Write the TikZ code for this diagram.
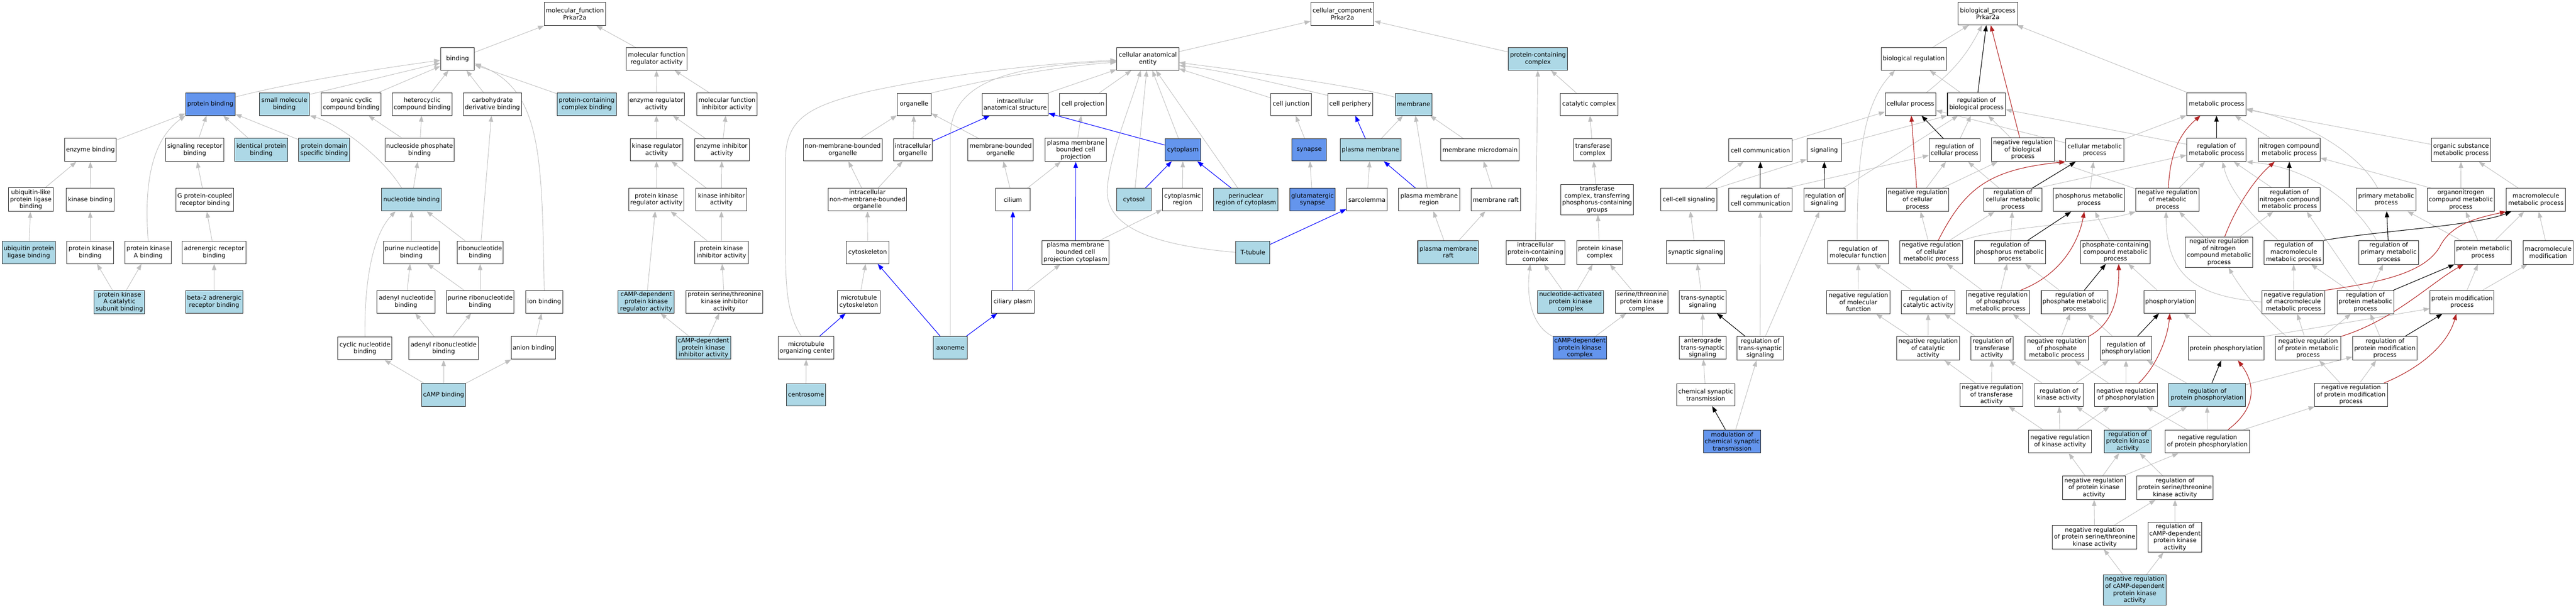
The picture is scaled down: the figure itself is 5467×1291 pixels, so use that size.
\documentclass[tikz,border=0pt]{standalone}
\usepackage{fontspec}
\setmainfont{DejaVu Sans}
\usetikzlibrary{arrows.meta}
\definecolor{lbl}{HTML}{ADD8E6}
\definecolor{cfb}{HTML}{6495ED}
\definecolor{egr}{HTML}{BEBEBE}
\definecolor{ered}{HTML}{B22222}
\definecolor{eblu}{HTML}{0000FF}
\pgfdeclarelayer{bg}
\pgfsetlayers{bg,main}
\newcommand{\gnode}[7]{%
  \pgfmathsetmacro{\gnw}{#4-#2}\pgfmathsetmacro{\gnh}{#5-#3}%
  \pgfmathsetmacro{\gncx}{(#2+#4)/2}\pgfmathsetmacro{\gncy}{-(#3+#5)/2}%
  \node[#6, minimum width=\gnw pt, minimum height=\gnh pt] (#1) at (\gncx,\gncy) {#7};}
\tikzset{
  wbox/.style={draw=black!85, line width=1.1pt, fill=white, align=center, inner xsep=1pt, inner ysep=1pt,
     font=\fontsize{12.9}{14.8}\selectfont, text=black},
  lbox/.style={wbox, fill=lbl},
  cbox/.style={wbox, fill=cfb},
  tipa/.tip={Triangle[length=13pt,width=9.5pt]},
  ge/.style={draw=egr, line width=1pt, -tipa},
  be/.style={draw=black, line width=1.2pt, -tipa},
  re/.style={draw=ered, line width=1.2pt, -tipa},
  ble/.style={draw=eblu, line width=1.2pt, -tipa},
}
\begin{document}
\begin{tikzpicture}[x=1pt,y=1pt]
\useasboundingbox (0,0) rectangle (5467,-1291);
% ---------------- molecular function ----------------
\gnode{mf}{1155}{5}{1285}{54}{wbox}{molecular\_function\\Prkar2a}
\gnode{bind}{935}{101}{1007}{149}{wbox}{binding}
\gnode{mfra}{1329}{101}{1458}{149}{wbox}{molecular function\\regulator activity}
\gnode{pb}{394}{197}{499}{245}{cbox}{protein binding}
\gnode{smb}{550}{197}{657}{245}{lbox}{small molecule\\binding}
\gnode{occb}{682}{197}{809}{245}{wbox}{organic cyclic\\compound binding}
\gnode{hccb}{833}{197}{959}{245}{wbox}{heterocyclic\\compound binding}
\gnode{cdb}{983}{197}{1107}{245}{wbox}{carbohydrate\\derivative binding}
\gnode{pccb}{1182}{197}{1308}{245}{lbox}{protein-containing\\complex binding}
\gnode{era}{1333}{197}{1453}{245}{wbox}{enzyme regulator\\activity}
\gnode{mfia}{1479}{197}{1607}{245}{wbox}{molecular function\\inhibitor activity}
\gnode{eb}{137}{294}{247}{343}{wbox}{enzyme binding}
\gnode{srb}{352}{294}{475}{343}{wbox}{signaling receptor\\binding}
\gnode{ipb}{498}{294}{611}{343}{lbox}{identical protein\\binding}
\gnode{pdsb}{634}{294}{742}{343}{lbox}{protein domain\\specific binding}
\gnode{npb}{817}{294}{964}{343}{wbox}{nucleoside phosphate\\binding}
\gnode{kra}{1338}{295}{1449}{342}{wbox}{kinase regulator\\activity}
\gnode{eia}{1474}{295}{1590}{342}{wbox}{enzyme inhibitor\\activity}
\gnode{ulplb}{18}{399}{113}{449}{wbox}{ubiquitin-like\\protein ligase\\binding}
\gnode{kb}{141}{400}{242}{449}{wbox}{kinase binding}
\gnode{gpcrb}{373}{400}{496}{449}{wbox}{G protein-coupled\\receptor binding}
\gnode{nb}{810}{400}{937}{448}{lbox}{nucleotide binding}
\gnode{pkra}{1334}{400}{1452}{448}{wbox}{protein kinase\\regulator activity}
\gnode{kia}{1477}{400}{1585}{448}{wbox}{kinase inhibitor\\activity}
\gnode{uplb}{5}{512}{117}{560}{lbox}{ubiquitin protein\\ligase binding}
\gnode{pkb}{142}{512}{241}{560}{wbox}{protein kinase\\binding}
\gnode{pkab}{265}{512}{364}{560}{wbox}{protein kinase\\A binding}
\gnode{arb}{387}{512}{522}{560}{wbox}{adrenergic receptor\\binding}
\gnode{pnb}{814}{512}{932}{560}{wbox}{purine nucleotide\\binding}
\gnode{rnb}{970}{512}{1068}{560}{wbox}{ribonucleotide\\binding}
\gnode{pkia}{1474}{512}{1588}{560}{wbox}{protein kinase\\inhibitor activity}
\gnode{pkacsb}{200}{617}{307}{666}{lbox}{protein kinase\\A catalytic\\subunit binding}
\gnode{b2arb}{394}{617}{515}{665}{lbox}{beta-2 adrenergic\\receptor binding}
\gnode{anb}{800}{617}{923}{665}{wbox}{adenyl nucleotide\\binding}
\gnode{prnb}{947}{617}{1091}{665}{wbox}{purine ribonucleotide\\binding}
\gnode{ionb}{1116}{617}{1194}{665}{wbox}{ion binding}
\gnode{campra}{1312}{617}{1431}{665}{lbox}{cAMP-dependent\\protein kinase\\regulator activity}
\gnode{pstkia}{1456}{617}{1619}{665}{wbox}{protein serine/threonine\\kinase inhibitor\\activity}
\gnode{cnb}{717}{716}{832}{764}{wbox}{cyclic nucleotide\\binding}
\gnode{arnb}{868}{716}{1015}{764}{wbox}{adenyl ribonucleotide\\binding}
\gnode{anionb}{1085}{715}{1179}{763}{wbox}{anion binding}
\gnode{campia}{1435}{715}{1551}{763}{lbox}{cAMP-dependent\\protein kinase\\inhibitor activity}
\gnode{campb}{895}{814}{988}{863}{lbox}{cAMP binding}
% ---------------- cellular component ----------------
\gnode{cc}{2782}{5}{2916}{54}{wbox}{cellular\_component\\Prkar2a}
\gnode{cae}{2370}{101}{2502}{149}{wbox}{cellular anatomical\\entity}
\gnode{pcc}{3201}{101}{3327}{149}{lbox}{protein-containing\\complex}
\gnode{org}{1904}{198}{1976}{245}{wbox}{organelle}
\gnode{ias}{2084}{198}{2225}{245}{wbox}{intracellular\\anatomical structure}
\gnode{cp}{2249}{198}{2348}{245}{wbox}{cell projection}
\gnode{cj}{2697}{198}{2783}{245}{wbox}{cell junction}
\gnode{cper}{2818}{198}{2913}{245}{wbox}{cell periphery}
\gnode{mem}{2961}{198}{3039}{245}{lbox}{membrane}
\gnode{catc}{3311}{198}{3434}{245}{wbox}{catalytic complex}
\gnode{nmbo}{1705}{295}{1872}{342}{wbox}{non-membrane-bounded\\organelle}
\gnode{io}{1896}{295}{1979}{342}{wbox}{intracellular\\organelle}
\gnode{mbo}{2054}{295}{2193}{342}{wbox}{membrane-bounded\\organelle}
\gnode{pmbcp}{2218}{294}{2348}{343}{wbox}{plasma membrane\\bounded cell\\projection}
\gnode{cyto}{2473}{295}{2548}{342}{cbox}{cytoplasm}
\gnode{syn}{2742}{295}{2815}{342}{cbox}{synapse}
\gnode{pm}{2844}{295}{2973}{342}{lbox}{plasma membrane}
\gnode{mmd}{3058}{295}{3224}{342}{wbox}{membrane microdomain}
\gnode{tc}{3340}{295}{3420}{342}{wbox}{transferase\\complex}
\gnode{inmbo}{1758}{400}{1924}{448}{wbox}{intracellular\\non-membrane-bounded\\organelle}
\gnode{cil}{2113}{400}{2186}{448}{wbox}{cilium}
\gnode{cytosol}{2370}{400}{2443}{448}{lbox}{cytosol}
\gnode{cytr}{2467}{400}{2552}{448}{wbox}{cytoplasmic\\region}
\gnode{pnr}{2576}{400}{2712}{448}{lbox}{perinuclear\\region of cytoplasm}
\gnode{gsyn}{2737}{400}{2834}{448}{cbox}{glutamatergic\\synapse}
\gnode{sarc}{2858}{400}{2944}{448}{wbox}{sarcolemma}
\gnode{pmr}{2968}{400}{3098}{448}{wbox}{plasma membrane\\region}
\gnode{mraft}{3122}{400}{3227}{448}{wbox}{membrane raft}
\gnode{tctp}{3312}{392}{3467}{456}{wbox}{transferase\\complex, transferring\\phosphorus-containing\\groups}
\gnode{csk}{1796}{512}{1887}{560}{wbox}{cytoskeleton}
\gnode{pmbcpc}{2211}{511}{2354}{561}{wbox}{plasma membrane\\bounded cell\\projection cytoplasm}
\gnode{ttub}{2623}{512}{2695}{560}{lbox}{T-tubule}
\gnode{pmraft}{3009}{511}{3138}{560}{lbox}{plasma membrane\\raft}
\gnode{ipcc}{3196}{511}{3321}{561}{wbox}{intracellular\\protein-containing\\complex}
\gnode{pkc}{3346}{511}{3444}{561}{wbox}{protein kinase\\complex}
\gnode{mtcsk}{1777}{617}{1868}{665}{wbox}{microtubule\\cytoskeleton}
\gnode{cilp}{2104}{617}{2195}{665}{wbox}{ciliary plasm}
\gnode{napkc}{3263}{617}{3403}{665}{lbox}{nucleotide-activated\\protein kinase\\complex}
\gnode{stpkc}{3428}{617}{3540}{665}{wbox}{serine/threonine\\protein kinase\\complex}
\gnode{mtoc}{1652}{715}{1770}{763}{wbox}{microtubule\\organizing center}
\gnode{axo}{1981}{715}{2053}{763}{lbox}{axoneme}
\gnode{campc}{3296}{715}{3410}{763}{cbox}{cAMP-dependent\\protein kinase\\complex}
\gnode{cent}{1669}{815}{1752}{862}{lbox}{centrosome}
% ---------------- biological process ----------------
\gnode{bp}{4155}{5}{4282}{53}{wbox}{biological\_process\\Prkar2a}
\gnode{breg}{3992}{101}{4131}{149}{wbox}{biological regulation}
\gnode{cproc}{4001}{197}{4108}{245}{wbox}{cellular process}
\gnode{rbp}{4133}{197}{4256}{245}{wbox}{regulation of\\biological process}
\gnode{mp}{4641}{197}{4767}{245}{wbox}{metabolic process}
\gnode{ccom}{3669}{295}{3803}{343}{wbox}{cell communication}
\gnode{sig}{3835}{295}{3908}{343}{wbox}{signaling}
\gnode{rcp}{4094}{295}{4202}{343}{wbox}{regulation of\\cellular process}
\gnode{nrbp}{4226}{293}{4360}{343}{wbox}{negative regulation\\of biological\\process}
\gnode{cmp}{4384}{295}{4507}{343}{wbox}{cellular metabolic\\process}
\gnode{rmp}{4641}{294}{4767}{343}{wbox}{regulation of\\metabolic process}
\gnode{ncmp}{4793}{294}{4924}{343}{wbox}{nitrogen compound\\metabolic process}
\gnode{osmp}{5160}{294}{5286}{343}{wbox}{organic substance\\metabolic process}
\gnode{ccs}{3524}{400}{3644}{448}{wbox}{cell-cell signaling}
\gnode{rcc}{3669}{400}{3803}{449}{wbox}{regulation of\\cell communication}
\gnode{rsig}{3828}{400}{3916}{449}{wbox}{regulation of\\signaling}
\gnode{nrcp}{4003}{400}{4136}{449}{wbox}{negative regulation\\of cellular\\process}
\gnode{rcmp}{4210}{400}{4334}{449}{wbox}{regulation of\\cellular metabolic\\process}
\gnode{phmp}{4358}{400}{4509}{449}{wbox}{phosphorus metabolic\\process}
\gnode{nrmp}{4533}{400}{4667}{449}{wbox}{negative regulation\\of metabolic\\process}
\gnode{rncmp}{4793}{399}{4924}{449}{wbox}{regulation of\\nitrogen compound\\metabolic process}
\gnode{pmp}{5001}{400}{5127}{448}{wbox}{primary metabolic\\process}
\gnode{oncmp}{5151}{400}{5294}{449}{wbox}{organonitrogen\\compound metabolic\\process}
\gnode{mmp}{5319}{400}{5445}{449}{wbox}{macromolecule\\metabolic process}
\gnode{ssig}{3537}{511}{3660}{560}{wbox}{synaptic signaling}
\gnode{rmf}{3879}{511}{4008}{560}{wbox}{regulation of\\molecular function}
\gnode{nrcmp}{4032}{511}{4165}{560}{wbox}{negative regulation\\of cellular\\metabolic process}
\gnode{rphmp}{4190}{511}{4341}{560}{wbox}{regulation of\\phosphorus metabolic\\process}
\gnode{pccmp}{4416}{511}{4563}{560}{wbox}{phosphate-containing\\compound metabolic\\process}
\gnode{nrncmp}{4638}{503}{4781}{568}{wbox}{negative regulation\\of nitrogen\\compound metabolic\\process}
\gnode{rmmp}{4805}{511}{4931}{561}{wbox}{regulation of\\macromolecule\\metabolic process}
\gnode{rprimmp}{5006}{511}{5133}{561}{wbox}{regulation of\\primary metabolic\\process}
\gnode{prmp}{5209}{511}{5330}{561}{wbox}{protein metabolic\\process}
\gnode{mmod}{5355}{511}{5461}{561}{wbox}{macromolecule\\modification}
\gnode{tss}{3564}{617}{3663}{665}{wbox}{trans-synaptic\\signaling}
\gnode{nrmf}{3877}{617}{4011}{666}{wbox}{negative regulation\\of molecular\\function}
\gnode{rca}{4035}{617}{4149}{666}{wbox}{regulation of\\catalytic activity}
\gnode{nrphmp}{4173}{617}{4307}{666}{wbox}{negative regulation\\of phosphorus\\metabolic process}
\gnode{rphosmp}{4332}{617}{4474}{666}{wbox}{regulation of\\phosphate metabolic\\process}
\gnode{phos}{4550}{617}{4660}{665}{wbox}{phosphorylation}
\gnode{nrmmp}{4801}{617}{4934}{666}{wbox}{negative regulation\\of macromolecule\\metabolic process}
\gnode{rprmp}{4960}{617}{5080}{666}{wbox}{regulation of\\protein metabolic\\process}
\gnode{pmodp}{5157}{617}{5293}{666}{wbox}{protein modification\\process}
\gnode{ats}{3564}{715}{3663}{763}{wbox}{anterograde\\trans-synaptic\\signaling}
\gnode{rtss}{3686}{715}{3785}{765}{wbox}{regulation of\\trans-synaptic\\signaling}
\gnode{nrca}{4025}{715}{4159}{765}{wbox}{negative regulation\\of catalytic\\activity}
\gnode{rta}{4183}{715}{4272}{765}{wbox}{regulation of\\transferase\\activity}
\gnode{nrphosmp}{4298}{715}{4432}{765}{wbox}{negative regulation\\of phosphate\\metabolic process}
\gnode{rphos}{4457}{715}{4567}{765}{wbox}{regulation of\\phosphorylation}
\gnode{pphos}{4644}{715}{4805}{765}{wbox}{protein phosphorylation}
\gnode{nrpmp}{4829}{715}{4968}{765}{wbox}{negative regulation\\of protein metabolic\\process}
\gnode{rpmod}{4993}{715}{5130}{765}{wbox}{regulation of\\protein modification\\process}
\gnode{cst}{3558}{815}{3682}{862}{wbox}{chemical synaptic\\transmission}
\gnode{nrta}{4160}{814}{4293}{863}{wbox}{negative regulation\\of transferase\\activity}
\gnode{rka}{4318}{814}{4421}{863}{wbox}{regulation of\\kinase activity}
\gnode{nrphos}{4445}{814}{4579}{863}{wbox}{negative regulation\\of phosphorylation}
\gnode{rpp}{4603}{814}{4765}{863}{lbox}{regulation of\\protein phosphorylation}
\gnode{nrpmodp}{4912}{814}{5067}{863}{wbox}{negative regulation\\of protein modification\\process}
\gnode{mcst}{3615}{913}{3737}{962}{cbox}{modulation of\\chemical synaptic\\transmission}
\gnode{nrka}{4305}{913}{4439}{962}{wbox}{negative regulation\\of kinase activity}
\gnode{rpka}{4466}{913}{4565}{962}{lbox}{regulation of\\protein kinase\\activity}
\gnode{nrpp}{4595}{913}{4774}{962}{wbox}{negative regulation\\of protein phosphorylation}
\gnode{nrpka}{4377}{1011}{4511}{1061}{wbox}{negative regulation\\of protein kinase\\activity}
\gnode{rpstka}{4535}{1011}{4697}{1061}{wbox}{regulation of\\protein serine/threonine\\kinase activity}
\gnode{nrpstka}{4356}{1116}{4535}{1166}{wbox}{negative regulation\\of protein serine/threonine\\kinase activity}
\gnode{rcamp}{4559}{1109}{4673}{1173}{wbox}{regulation of\\cAMP-dependent\\protein kinase\\activity}
\gnode{nrcamp}{4464}{1221}{4597}{1285}{lbox}{negative regulation\\of cAMP-dependent\\protein kinase\\activity}

\begin{pgfonlayer}{bg}
\fill[white] (0,0) rectangle (5467,-1291);
% ===== MF edges =====
\draw[ge] (bind) -- (mf);
\draw[ge] (mfra) -- (mf);
\draw[ge] ([yshift=15pt]pb.east) .. controls (560,-190) and (700,-160) .. ([yshift=-3pt]bind.west);
\draw[ge] ([yshift=-4pt]smb.north east) -- (bind);
\draw[ge] (occb) -- (bind);
\draw[ge] (hccb) -- (bind);
\draw[ge] (cdb) -- (bind);
\draw[ge] (pccb) -- (bind);
\draw[ge] (ionb.north) .. controls (1150,-330) and (1150,-190) .. ([yshift=-10pt]bind.east);
\draw[ge] ([xshift=-21pt]nb.north) .. controls (810,-330) and (715,-262) .. (smb.south east);
\draw[ge] (npb) -- (occb);
\draw[ge] (npb) -- (hccb);
\draw[ge] (nb) -- (npb);
\draw[ge] (eb) -- (pb);
\draw[ge] (pkab.north) .. controls (306,-400) and (318,-300) .. (pb.south west);
\draw[ge] (srb) -- (pb);
\draw[ge] (ipb) -- (pb);
\draw[ge] (pdsb) -- (pb);
\draw[ge] (ulplb) -- (eb);
\draw[ge] (kb) -- (eb);
\draw[ge] (gpcrb) -- (srb);
\draw[ge] (uplb) -- (ulplb);
\draw[ge] (pkb) -- (kb);
\draw[ge] (arb) -- (gpcrb);
\draw[ge] (pkacsb) -- (pkb);
\draw[ge] (pkacsb) -- (pkab);
\draw[ge] (b2arb) -- (arb);
\draw[ge] (pnb) -- (nb);
\draw[ge] (cnb.north) .. controls (773,-600) and (790,-500) .. ([xshift=-34pt]nb.south);
\draw[ge] (rnb) -- (nb);
\draw[ge] (rnb) -- (cdb);
\draw[ge] (anb) -- (pnb);
\draw[ge] (prnb) -- (pnb);
\draw[ge] (prnb) -- (rnb);
\draw[ge] (arnb) -- (anb);
\draw[ge] (arnb) -- (prnb);
\draw[ge] (campb) -- (cnb);
\draw[ge] (campb) -- (arnb);
\draw[ge] (campb) -- (anionb);
\draw[ge] (anionb) -- (ionb);
\draw[ge] (era) -- (mfra);
\draw[ge] (mfia) -- (mfra);
\draw[ge] (kra) -- (era);
\draw[ge] (eia) -- (era);
\draw[ge] (eia) -- (mfia);
\draw[ge] (pkra) -- (kra);
\draw[ge] (kia) -- (kra);
\draw[ge] (kia) -- (eia);
\draw[ge] (pkia) -- (pkra);
\draw[ge] (pkia) -- (kia);
\draw[ge] (campra) -- (pkra);
\draw[ge] (pstkia) -- (pkia);
\draw[ge] (campia) -- (campra);
\draw[ge] (campia) -- (pstkia);
% ===== CC edges =====
\draw[ge] (cae) -- (cc);
\draw[ge] (pcc) -- (cc);
\draw[ge] (org.north east) .. controls (2060,-178) and (2200,-145) .. ([yshift=-7pt]cae.west);
\draw[ge] (ias) -- (cae);
\draw[ge] (cp) -- (cae);
\draw[ge] ([xshift=-10pt]mtoc.north) .. controls (1672,-670) and (1667,-620) .. (1667,-520) -- (1667,-340) .. controls (1667,-250) and (1720,-225) .. (1840,-195) .. controls (2000,-160) and (2200,-135) .. ([yshift=-3pt]cae.west);
\draw[ge] (axo.north) -- (2017,-290) .. controls (2017,-170) and (2150,-140) .. ([yshift=-5pt]cae.west);
\draw[ge] (io) -- (org);
\draw[ge] (mbo) -- (org);
\draw[ge] (nmbo) -- (org);
\draw[ge] (inmbo) -- (nmbo);
\draw[ge] (inmbo) -- (io);
\draw[ge] (csk) -- (inmbo);
\draw[ge] (mtcsk) -- (csk);
\draw[ge] (cent) -- (mtoc);
\draw[ge] (pmbcp) -- (cp);
\draw[ge] (cil) -- (mbo);
\draw[ge] (cil) -- (pmbcp);
\draw[ge] (cilp) -- (pmbcpc);
\draw[ge] (pmbcpc) -- (cytr);
\draw[ge] (cyto) -- (cae);
\draw[ge] (cytosol) -- (cae);
\draw[ge] (cytr) -- (cyto);
\draw[ge] (pnr) -- (cae);
\draw[ge] (ttub.west) .. controls (2440,-520) and (2345,-480) .. (2350,-400) .. controls (2355,-330) and (2400,-220) .. ([xshift=-15pt]cae.south);
\draw[ge] (cj) -- (cae);
\draw[ge] (syn) -- (cj);
\draw[ge] (gsyn) -- (syn);
\draw[ge] ([yshift=-5pt]cper.north west) .. controls (2720,-180) and (2600,-150) .. ([yshift=-14pt]cae.east);
\draw[ge] ([yshift=15pt]mem.west) .. controls (2890,-186) and (2700,-158) .. ([yshift=-8pt]cae.east);
\draw[ge] (pm) -- (mem);
\draw[ge] (pmr) -- (mem);
\draw[ge] (mmd) -- (mem);
\draw[ge] (sarc) -- (pm);
\draw[ge] (mraft) -- (mmd);
\draw[ge] (pmraft) -- (pmr);
\draw[ge] (pmraft) -- (mraft);
\draw[ge] (catc) -- (pcc);
\draw[ge] (ipcc) -- (pcc);
\draw[ge] (tc) -- (catc);
\draw[ge] (tctp) -- (tc);
\draw[ge] (pkc) -- (tctp);
\draw[ge] (napkc) -- (ipcc);
\draw[ge] (napkc) -- (pkc);
\draw[ge] (stpkc) -- (pkc);
\draw[ge] (campc.north west) .. controls (3255,-695) and (3238,-640) .. ([xshift=-11pt]ipcc.south);
\draw[ge] (campc) -- (stpkc);
\draw[ble] (io) -- (ias);
\draw[ble] (mtoc) -- (mtcsk);
\draw[ble] (axo) -- (csk);
\draw[ble] (axo) -- (cilp);
\draw[ble] (cilp) -- (cil);
\draw[ble] (pmbcpc) -- (pmbcp);
\draw[ble] (cyto) -- (ias);
\draw[ble] (cytosol) -- (cyto);
\draw[ble] (pnr) -- (cyto);
\draw[ble] (ttub) -- (sarc);
\draw[ble] (pm) -- (cper);
\draw[ble] (pmr) -- (pm);
% ===== BP edges =====
\draw[ge] (breg) -- (bp);
\draw[ge] ([xshift=34pt]cproc.north) to[bend right=12] ([xshift=-12pt]bp.south);
\draw[ge] (mp) -- (bp);
\draw[ge] (rbp) -- (breg);
\draw[ge] ([xshift=-2pt]rmf.north) .. controls (3941,-330) and (3955,-220) .. ([xshift=-40pt]breg.south);
\draw[ge] (ccom) -- (cproc);
\draw[ge] ([yshift=13pt]sig.east) -- (rbp.south west);
\draw[ge] (cmp) -- (cproc);
\draw[ge] (rcp) -- (rbp);
\draw[ge] (nrbp) -- (rbp);
\draw[ge] (rsig) -- (rbp);
\draw[ge] (rmp) -- (rbp);
\draw[ge] (cmp) -- (mp);
\draw[ge] (ccs) -- (ccom);
\draw[ge] (ccs.north east) -- ([yshift=5pt]sig.south west);
\draw[ge] ([xshift=-12pt]rcc.north east) -- ([yshift=-11pt]rcp.west);
\draw[ge] (nrcp) -- (rcp);
\draw[ge] (nrcp) -- (nrbp);
\draw[ge] (rcmp) -- (rcp);
\draw[ge] ([xshift=-10pt]rcmp.north east) -- ([yshift=-11pt]rmp.west);
\draw[ge] (phmp) -- (cmp);
\draw[ge] (nrmp) -- (nrbp);
\draw[ge] (nrmp) -- (rmp);
\draw[ge] (nrcmp) -- (nrcp);
\draw[ge] (nrcmp) -- (rcmp);
\draw[ge] (nrcmp.north east) .. controls (4250,-480) and (4450,-475) .. (nrmp.south west);
\draw[ge] (rphmp) -- (rcmp);
\draw[ge] (pccmp) -- (phmp);
\draw[ge] (nrphmp) -- (nrcmp);
\draw[ge] (nrphmp) -- (rphmp);
\draw[ge] (rphosmp) -- (rphmp);
\draw[ge] (nrmf) -- (rmf);
\draw[ge] (rca) -- (rmf);
\draw[ge] (nrca) -- (nrmf);
\draw[ge] (nrca) -- (rca);
\draw[ge] (rta) -- (rca);
\draw[ge] (nrphosmp) -- (nrphmp);
\draw[ge] (nrphosmp) -- (rphosmp);
\draw[ge] (rphos) -- (rphosmp);
\draw[ge] (nrta) -- (nrca);
\draw[ge] (nrta) -- (rta);
\draw[ge] (rka) -- (rta);
\draw[ge] (rka) -- (rphos);
\draw[ge] (nrphos) -- (nrphosmp);
\draw[ge] (nrphos) -- (rphos);
\draw[ge] (nrka) -- (nrta);
\draw[ge] (nrka) -- (rka);
\draw[ge] (nrka) -- (nrphos);
\draw[ge] (rpka) -- (rka);
\draw[ge] (rpka) -- (rpp);
\draw[ge] (nrpka) -- (nrka);
\draw[ge] (nrpka) -- (rpka);
\draw[ge] (nrpka) -- (nrpp);
\draw[ge] (rpstka) -- (rpka);
\draw[ge] (nrpstka) -- (nrpka);
\draw[ge] (nrpstka) -- (rpstka);
\draw[ge] (rcamp) -- (rpstka);
\draw[ge] (nrcamp) -- (nrpstka);
\draw[ge] (nrcamp) -- (rcamp);
\draw[ge] (pphos) -- (phos);
\draw[ge] (pphos.north east) -- ([yshift=-14pt]pmodp.west);
\draw[ge] (rpp) -- (rphos);
\draw[ge] (rpp) -- (rpmod);
\draw[ge] (nrpp) -- (nrphos);
\draw[ge] (nrpp) -- (rpp);
\draw[ge] (nrpp) -- (nrpmodp);
\draw[ge] (nrpmp) -- (nrmmp);
\draw[ge] (nrpmp) -- (rprmp);
\draw[ge] ([xshift=-46pt]nrpmp.north) .. controls (4800,-670) and (4760,-620) .. ([xshift=20pt]nrncmp.south);
\draw[ge] (rpmod) -- (rprmp);
\draw[ge] (nrpmodp) -- (rpmod);
\draw[ge] (nrpmodp) -- (nrpmp);
\draw[ge] (nrmmp) -- (rmmp);
\draw[ge] (nrmmp.west) .. controls (4680,-630) and (4597,-600) .. ([xshift=-3pt]nrmp.south);
\draw[ge] (rprmp) -- (rmmp);
\draw[ge] (rprmp) -- (rprimmp);
\draw[ge] ([xshift=-10pt]rprmp.north) -- ([xshift=37pt]rncmp.south);
\draw[ge] ([xshift=-33pt]rmmp.north) .. controls (4770,-450) and (4730,-400) .. ([xshift=13pt]rmp.south);
\draw[ge] (nrncmp) -- (rncmp);
\draw[ge] (nrncmp) -- (nrmp);
\draw[ge] (rncmp) -- (rmp);
\draw[ge] (ncmp) -- (mp);
\draw[ge] ([xshift=-18pt]pmp.north) .. controls (5010,-330) and (4900,-260) .. ([yshift=-10pt]mp.east);
\draw[ge] (osmp) -- (mp);
\draw[ge] ([xshift=9pt]oncmp.north west) -- ([yshift=-17pt]ncmp.east);
\draw[ge] (oncmp) -- (osmp);
\draw[ge] (mmp) -- (osmp);
\draw[ge] ([xshift=-26pt]rprimmp.north) .. controls (5000,-430) and (4900,-355) .. (rmp.south east);
\draw[ge] (prmp) -- (pmp);
\draw[ge] (prmp) -- (oncmp);
\draw[ge] (prmp) -- (mmp);
\draw[ge] (mmod) -- (mmp);
\draw[ge] (pmodp) -- (prmp);
\draw[ge] (pmodp) -- (mmod);
\draw[ge] (phos) -- (pccmp);
\draw[ge] (ssig) -- (ccs);
\draw[ge] (tss) -- (ssig);
\draw[ge] (ats) -- (tss);
\draw[ge] (cst) -- (ats);
\draw[ge] (rtss) -- (rcc);
\draw[ge] (rtss) -- (rsig);
\draw[ge] (mcst) -- (rtss);
% black
\draw[be] (rbp) -- (bp);
\draw[be] (rcp) -- (cproc);
\draw[be] (rcc) -- (ccom);
\draw[be] (rsig) -- (sig);
\draw[be] (rcmp) -- (cmp);
\draw[be] (rphmp) -- (phmp);
\draw[be] (rphosmp) -- (pccmp);
\draw[be] (rphos) -- (phos);
\draw[be] (rpp) -- (pphos);
\draw[be] (rpmod) -- (pmodp);
\draw[be] (rprmp) -- (prmp);
\draw[be] (rmmp.north east) .. controls (5050,-490) and (5250,-480) .. ([xshift=11pt]mmp.south west);
\draw[be] (rprimmp) -- (pmp);
\draw[be] (rncmp) -- (ncmp);
\draw[be] (rmp) -- (mp);
\draw[be] (rtss) -- (tss);
\draw[be] (mcst) -- (cst);
% red
\draw[re] (nrbp) -- (bp);
\draw[re] (nrcp) -- (cproc);
\draw[re] ([xshift=15pt]nrcmp.north) .. controls (4170,-400) and (4220,-360) .. (cmp.south west);
\draw[re] ([xshift=2pt]nrmp.north) .. controls (4605,-320) and (4630,-280) .. ([xshift=-34pt]mp.south);
\draw[re] ([xshift=48pt]nrphmp.north) .. controls (4370,-585) and (4410,-520) .. ([xshift=-10pt]phmp.south);
\draw[re] (nrphosmp.north east) .. controls (4480,-690) and (4497,-640) .. ([xshift=7pt]pccmp.south);
\draw[re] ([xshift=27pt]nrphos.north) .. controls (4575,-780) and (4600,-720) .. (phos.south);
\draw[re] ([xshift=44pt]nrpp.north) .. controls (4785,-870) and (4790,-820) .. ([xshift=25pt]pphos.south);
\draw[re] ([xshift=-8pt]nrpmodp.north east) .. controls (5140,-780) and (5195,-730) .. ([xshift=-12pt]pmodp.south);
\draw[re] (nrpmp.north east) .. controls (5080,-680) and (5160,-600) .. ([xshift=-41pt]prmp.south);
\draw[re] (nrmmp.north east) .. controls (5050,-600) and (5150,-580) .. (5180,-520) .. controls (5205,-475) and (5260,-462) .. (mmp.south west);
\draw[re] ([xshift=12pt]nrncmp.north) .. controls (4745,-440) and (4785,-380) .. ([xshift=-31pt]ncmp.south);
\end{pgfonlayer}
\end{tikzpicture}
\end{document}
